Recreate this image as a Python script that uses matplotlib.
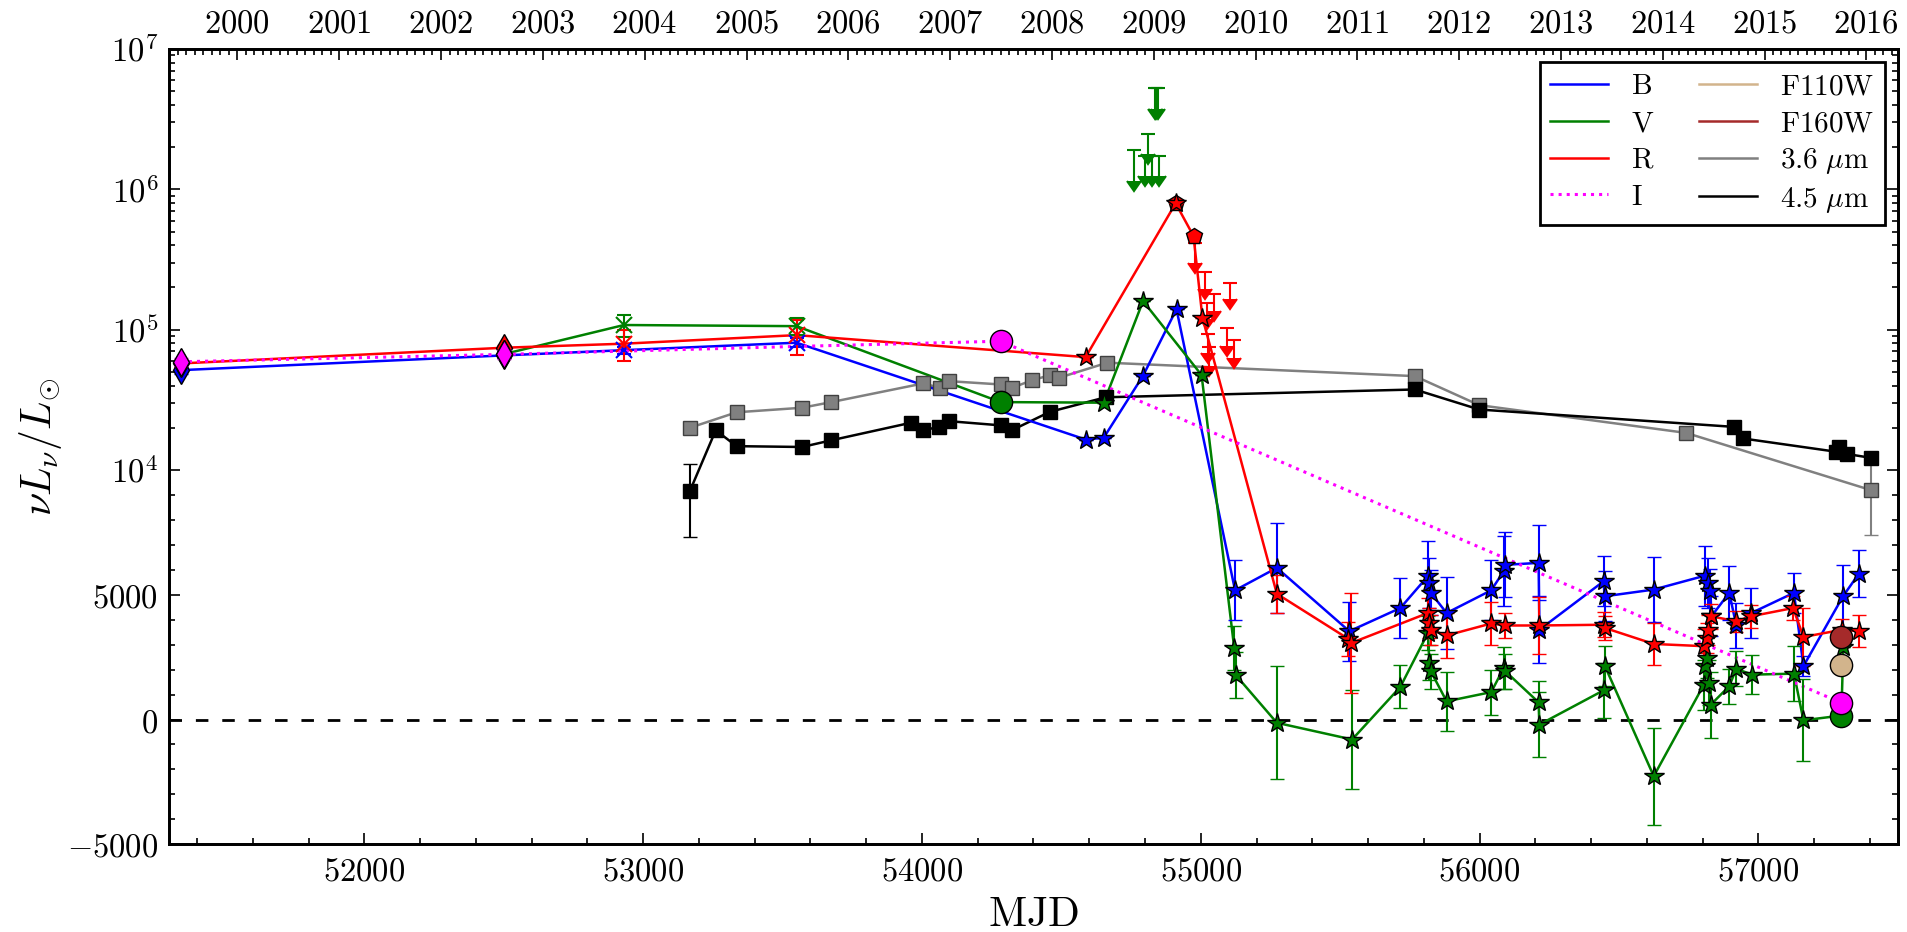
import datetime
import numpy as np
import matplotlib
matplotlib.use('Agg')
import matplotlib.pyplot as plt
from matplotlib.lines import Line2D
from matplotlib.ticker import FixedLocator, FuncFormatter

plt.rcParams['mathtext.fontset'] = 'cm'
plt.rcParams['font.family'] = ['DejaVu Serif']

# ---- B band ----
B_d_mjd = [51341, 52500]
B_d_lum = [5.15e4, 6.56e4]
B_d_err = [3e3, 3e3]
B_x_mjd = [52931, 53550]
B_x_lum = [7.15e4, 8.08e4]
B_x_err = [4e3, 6e3]
B_s_mjd = [54587, 54652, 54793, 54913, 55123, 55273, 55533, 55716, 55815, 55820,
           55825, 55882, 56042, 56087, 56092, 56212, 56215, 56445, 56449, 56625,
           56810, 56820, 56828, 56832, 56896, 56921, 56975, 57128, 57162, 57304,
           57361]
B_s_lum = [1.65e4, 1.7e4, 4.7e4, 1.4e5, 5180, 6080, 3540, 4470, 5750, 5480,
           5080, 4270, 5180, 5950, 6200, 6280, 3600, 5540, 4940, 5210,
           5770, 5480, 5140, 4140, 5080, 3770, 4270, 5080, 2140, 4940,
           5850]
B_s_err = [0, 0, 0, 0, 1200, 1800, 1180, 1200, 1400, 1000,
           900, 1450, 1200, 1400, 1300, 1500, 1350, 1000, 1000, 1300,
           1200, 1000, 900, 800, 1070, 900, 1000, 800, 400, 1270,
           950]

# ---- V band ----
V_d_mjd = [52500]
V_d_lum = [6.7e4]
V_d_err = [3e3]
V_x_mjd = [52931, 53550]
V_x_lum = [1.08e5, 1.06e5]
V_x_err = [1.9e4, 1.5e4]
V_o_mjd = [54282, 57298]
V_o_lum = [3.05e4, 160]
V_s_mjd = [54652, 54793, 55003, 55120, 55125, 55273, 55543, 55716, 55815, 55820,
           55825, 55882, 56042, 56087, 56092, 56212, 56215, 56445, 56450, 56625,
           56805, 56810, 56815, 56822, 56830, 56896, 56921, 56979, 57128, 57162,
           57305]
V_s_lum = [3.02e4, 1.6e5, 4.75e4, 2870, 1790, -130, -800, 1310, 3470, 2270,
           1940, 730, 1100, 2070, 1940, 690, -200, 1170, 2140, -2270,
           1400, 2140, 2470, 1470, 600, 1340, 2030, 1800, 1840, -30,
           2900]
V_s_err = [0, 0, 0, 870, 930, 2270, 2000, 860, 700, 700,
           700, 1180, 900, 830, 700, 850, 1300, 1100, 800, 1940,
           1000, 900, 800, 900, 1320, 700, 700, 770, 1100, 1650,
           0]
V_ul_mjd = [54761, 54800, 54809, 54825, 54835, 54840, 54845, 54849]
V_ul_top = [1.9e6, 1.73e6, 2.5e6, 1.73e6, 5.26e6, 5.26e6, 5.26e6, 1.73e6]
V_ul_len = [7.5e5, 4.8e5, 7.2e5, 4.8e5, 1.53e6, 1.53e6, 1.53e6, 4.8e5]

# ---- R band ----
R_d_mjd = [51341, 52500]
R_d_lum = [5.75e4, 7.44e4]
R_d_err = [3e3, 3e3]
R_x_mjd = [52931, 53550]
R_x_lum = [7.95e4, 9.15e4]
R_x_err = [2e4, 2.5e4]
R_p_mjd = [54910, 54974]
R_p_lum = [7.96e5, 4.65e5]
R_s_mjd = [54587, 54910, 55006, 55273, 55530, 55540, 55815, 55820, 55825, 55882,
           56042, 56092, 56212, 56445, 56450, 56625, 56805, 56815, 56820, 56830,
           56921, 56975, 57125, 57162, 57301, 57361]
R_s_lum = [6.38e4, 7.96e5, 1.22e5, 5040, 3230, 3070, 4270, 3870, 3600, 3370,
           3850, 3770, 3770, 3800, 3670, 3030, 2940, 3270, 3600, 4140,
           3940, 4140, 4470, 3310, 3600, 3540]
R_s_err = [0, 0, 0, 750, 670, 2000, 600, 600, 600, 900,
           870, 520, 1150, 500, 470, 830, 700, 600, 600, 500,
           430, 470, 500, 1170, 430, 640]
R_ul_mjd = [54980, 55017, 55022, 55025, 55030, 55049, 55094, 55105, 55121]
R_ul_top = [4.18e5, 2.58e5, 1.55e5, 9.26e4, 7.5e4, 1.79e5, 1.03e5, 2.16e5, 8.5e4]
R_ul_len = [1.2e5, 6.4e4, 3.5e4, 2.4e4, 2.0e4, 4.3e4, 2.6e4, 5.1e4, 2.2e4]

# ---- I band ----
I_mjd = [51341, 52500, 53550, 54282, 57298]
I_lum = [5.91e4, 6.67e4, 7.6e4, 8.28e4, 670]
I_d_mjd = [51341, 52500]
I_d_lum = [5.91e4, 6.67e4]
I_d_err = [4e3, 5e3]
I_o_mjd = [54282, 57298]
I_o_lum = [8.28e4, 670]

# ---- HST ----
F110W_mjd = [57298]
F110W_lum = [2180]
F160W_mjd = [57298]
F160W_lum = [3310]

# ---- Spitzer ----
IR36_mjd = [53167, 53335, 53570, 53675, 54004, 54064, 54097, 54284, 54324, 54393,
            54460, 54492, 54665, 55768, 55999, 56741, 57406]
IR36_lum = [2.0e4, 2.58e4, 2.78e4, 3.05e4, 4.14e4, 3.86e4, 4.3e4, 4.07e4, 3.86e4, 4.35e4,
            4.75e4, 4.55e4, 5.82e4, 4.67e4, 2.9e4, 1.84e4, 9190]
IR36_err = [0, 0, 0, 0, 0, 0, 0, 0, 0, 0,
            0, 0, 0, 0, 0, 0, 1800]
IR45_mjd = [53167, 53260, 53335, 53570, 53675, 53959, 54004, 54061, 54097, 54285,
            54322, 54459, 54659, 55768, 55999, 56914, 56944, 57280, 57290, 57320,
            57406]
IR45_lum = [9150, 1.92e4, 1.48e4, 1.46e4, 1.63e4, 2.17e4, 1.92e4, 2.03e4, 2.23e4, 2.08e4,
            1.92e4, 2.6e4, 3.3e4, 3.75e4, 2.7e4, 2.03e4, 1.68e4, 1.35e4, 1.45e4, 1.3e4,
            1.22e4]
IR45_err = [1830, 1000, 0, 0, 0, 0, 0, 0, 0, 0,
            0, 0, 0, 0, 0, 0, 0, 0, 0, 0,
            0]

years = list(range(2000, 2017))

cB, cV, cR, cI = '#0000ff', '#008000', '#ff0000', '#ff00ff'
cF110, cF160, c36, c45 = '#d2b48c', '#a52a2a', '#808080', '#000000'
lw = 1.8
tick_fs = 23.5


def mjd(d):
    return (d - datetime.date(1858, 11, 17)).days


def pts(x, y, err, color, marker, ms, mec='k', z=4, mew=1.0):
    ax.errorbar(x, y, yerr=err, fmt=marker, color=color, ecolor=color,
                mfc=color, mec=mec, ms=ms, mew=mew, capsize=5,
                elinewidth=1.5, capthick=1.5, zorder=z)


fig = plt.figure(figsize=(19.07, 9.32), dpi=100)
ax = fig.add_axes([0.0888, 0.0941, 0.9063, 0.8533])
ax.set_yscale('symlog', linthresh=1e4, linscale=1.6)

# lines
ax.plot(IR36_mjd, IR36_lum, '-', color=c36, lw=lw, zorder=2)
ax.plot(IR45_mjd, IR45_lum, '-', color=c45, lw=lw, zorder=2)
B_all = sorted(zip(B_d_mjd + B_x_mjd + B_s_mjd, B_d_lum + B_x_lum + B_s_lum),
               key=lambda p: p[0])
ax.plot([p[0] for p in B_all], [p[1] for p in B_all], '-', color=cB, lw=lw, zorder=3)
V_all = sorted(zip(V_d_mjd + V_x_mjd + V_o_mjd + V_s_mjd,
                   V_d_lum + V_x_lum + V_o_lum + V_s_lum), key=lambda p: p[0])
ax.plot([p[0] for p in V_all], [p[1] for p in V_all], '-', color=cV, lw=lw, zorder=3)
R_line_mjd = R_d_mjd + R_x_mjd + R_s_mjd[:2] + [R_p_mjd[1]] + R_s_mjd[2:]
R_line_lum = R_d_lum + R_x_lum + R_s_lum[:2] + [R_p_lum[1]] + R_s_lum[2:]
ax.plot(R_line_mjd, R_line_lum, '-', color=cR, lw=lw, zorder=3)
ax.plot(I_mjd, I_lum, ':', color=cI, lw=2.2, zorder=3)

# Spitzer points
pts(IR36_mjd, IR36_lum, IR36_err, c36, 's', 10, mec='#404040', z=4)
pts(IR45_mjd, IR45_lum, IR45_err, c45, 's', 10, z=4)

# optical points
pts(B_d_mjd, B_d_lum, B_d_err, cB, 'd', 14)
pts(R_d_mjd, R_d_lum, R_d_err, cR, 'd', 14)
pts(V_d_mjd, V_d_lum, V_d_err, cV, 'd', 14)
pts(I_d_mjd, I_d_lum, I_d_err, cI, 'd', 14, z=5)
pts(B_x_mjd, B_x_lum, B_x_err, cB, 'x', 11, mec=cB, mew=1.5)
pts(V_x_mjd, V_x_lum, V_x_err, cV, 'x', 11, mec=cV, mew=1.5)
pts(R_x_mjd, R_x_lum, R_x_err, cR, 'x', 11, mec=cR, mew=1.5)
pts(R_p_mjd, R_p_lum, [0, 0], cR, 'p', 12, z=4)
pts(B_s_mjd, B_s_lum, B_s_err, cB, '*', 15, z=5)
pts(V_s_mjd, V_s_lum, V_s_err, cV, '*', 15, z=5)
pts(R_s_mjd, R_s_lum, R_s_err, cR, '*', 15, z=5)

# upper limits
ax.errorbar(V_ul_mjd, V_ul_top, yerr=V_ul_len, uplims=True, fmt='none',
            color=cV, ecolor=cV, capsize=5, elinewidth=1.5, capthick=1.5, zorder=4)
ax.errorbar(R_ul_mjd, R_ul_top, yerr=R_ul_len, uplims=True, fmt='none',
            color=cR, ecolor=cR, capsize=5, elinewidth=1.5, capthick=1.5, zorder=4)

# HST circles
ax.plot(V_o_mjd, V_o_lum, 'o', color=cV, mec='k', ms=16, zorder=6)
ax.plot(I_o_mjd, I_o_lum, 'o', color=cI, mec='k', ms=16, zorder=6)
ax.plot(F110W_mjd, F110W_lum, 'o', color=cF110, mec='k', ms=16, zorder=6)
ax.plot(F160W_mjd, F160W_lum, 'o', color=cF160, mec='k', ms=16, zorder=6)

ax.axhline(0, color='k', ls='--', lw=2, dashes=(4.5, 5), zorder=1)

ax.set_xlim(51300, 57500)
ax.set_ylim(-5000, 1e7)

mfmt = FuncFormatter(lambda v, p: r'$%d$' % v)
ax.xaxis.set_major_locator(FixedLocator([52000, 53000, 54000, 55000, 56000, 57000]))
ax.xaxis.set_minor_locator(FixedLocator(np.arange(51400, 57500, 200)))
ax.xaxis.set_major_formatter(mfmt)

yt = [-5000, 0, 5000, 1e4, 1e5, 1e6, 1e7]
ylab = [r'$-5000$', r'$0$', r'$5000$', r'$10^{4}$', r'$10^{5}$', r'$10^{6}$', r'$10^{7}$']
ax.set_yticks(yt)
ax.set_yticklabels(ylab)
yminor = [v for v in range(-4000, 10000, 1000) if v % 5000 != 0]
for dec in [1e4, 1e5, 1e6]:
    yminor += [k * dec for k in range(2, 10)]
ax.yaxis.set_minor_locator(FixedLocator(yminor))

ax.tick_params(which='both', direction='in', top=False, right=True,
               labelsize=tick_fs, width=1.2)
ax.tick_params(which='major', length=8, pad=8)
ax.tick_params(which='minor', length=4)
for s in ax.spines.values():
    s.set_linewidth(2)

ax.set_xlabel(r'$\mathrm{MJD}$', fontsize=30, labelpad=4)
ax.set_ylabel(r'$\nu L_{\nu}/L_{\odot}$', fontsize=30, labelpad=2)

# top axis: calendar years
ax2 = ax.twiny()
ax2.set_xlim(ax.get_xlim())
ax2.set_xticks([mjd(datetime.date(y, 1, 1)) for y in years])
ax2.set_xticklabels([r'$%d$' % y for y in years])
months = [mjd(datetime.date(y, m, 1)) for y in range(1999, 2018) for m in range(1, 13)]
ax2.xaxis.set_minor_locator(FixedLocator([m for m in months if 51300 < m < 57500]))
ax2.tick_params(which='both', direction='in', labelsize=tick_fs, width=1.2)
ax2.tick_params(which='major', length=8, pad=7)
ax2.tick_params(which='minor', length=4)
for s in ax2.spines.values():
    s.set_linewidth(2)

handles = [Line2D([], [], color=cB, lw=lw), Line2D([], [], color=cV, lw=lw),
           Line2D([], [], color=cR, lw=lw), Line2D([], [], color=cI, lw=2.2, ls=':'),
           Line2D([], [], color=cF110, lw=lw), Line2D([], [], color=cF160, lw=lw),
           Line2D([], [], color=c36, lw=lw), Line2D([], [], color=c45, lw=lw)]
labels = [r'$\mathrm{B}$', r'$\mathrm{V}$', r'$\mathrm{R}$', r'$\mathrm{I}$',
          r'$\mathrm{F110W}$', r'$\mathrm{F160W}$', r'$3.6\ \mu\mathrm{m}$',
          r'$4.5\ \mu\mathrm{m}$']
leg = ax.legend(handles, labels, loc='upper right', ncol=2, fontsize=21,
                fancybox=False, edgecolor='k', framealpha=1, labelspacing=0.3,
                borderaxespad=0.45, handlelength=2.0, columnspacing=1.5,
                handletextpad=0.8, borderpad=0.35)
leg.get_frame().set_linewidth(2)
leg.set_zorder(10)

fig.savefig('out.png', dpi=100)
